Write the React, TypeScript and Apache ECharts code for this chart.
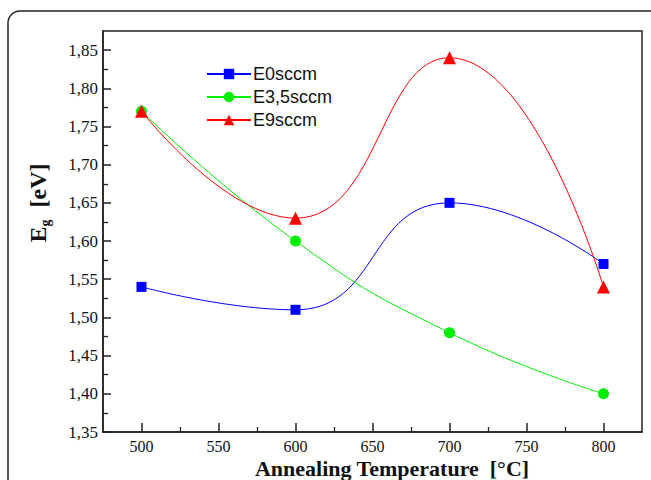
import React, { useEffect, useRef } from "react";
import * as echarts from "echarts";

const temps = [500, 600, 700, 800];
const e0 = [1.54, 1.51, 1.65, 1.57];
const e35 = [1.77, 1.6, 1.48, 1.4];
const e9 = [1.77, 1.63, 1.84, 1.54];
const seriesNames = ["E0sccm", "E3,5sccm", "E9sccm"];
const xMajor = [500, 550, 600, 650, 700, 750, 800];
const xMinor = [525, 575, 625, 675, 725, 775];
const yMajor = [1.35, 1.4, 1.45, 1.5, 1.55, 1.6, 1.65, 1.7, 1.75, 1.8, 1.85];
const yMinor = [1.375, 1.425, 1.475, 1.525, 1.575, 1.625, 1.675, 1.725, 1.775, 1.825];
const xTitle = "Annealing Temperature  [°C]";
const yTitleMain = "E";
const yTitleSub = "g";
const yTitleUnit = "[eV]";

const serif = "'Liberation Serif', 'Times New Roman', serif";
const sans = "'Liberation Sans', Arial, sans-serif";

export default function App() {
  const ref = useRef<HTMLDivElement>(null);
  useEffect(() => {
    const chart = echarts.init(ref.current!, null, { renderer: "svg" });
    const xMin = 475, xMax = 825, yMin = 1.35, yMax = 1.875;
    const pair = (vals: number[]) => temps.map((t, i) => [t, vals[i]]);
    const fmt = (v: number) => v.toFixed(2).replace(".", ",");
    chart.setOption({
      animation: false,
      backgroundColor: "#fff",
      graphic: [
        {
          type: "rect",
          shape: { x: 8, y: 11, width: 720, height: 540, r: 12 },
          style: { fill: "none", stroke: "#222", lineWidth: 1.5 },
          silent: true,
        },
        {
          type: "text",
          x: 392,
          y: 468,
          style: {
            text: xTitle,
            font: `bold 22px ${serif}`,
            fill: "#111",
            align: "center",
            verticalAlign: "middle",
          },
          silent: true,
        },
        {
          type: "text",
          x: 38,
          y: 203,
          rotation: Math.PI / 2,
          style: {
            text: `{a|${yTitleMain}}{b|${yTitleSub}}{a|  ${yTitleUnit}}`,
            align: "center",
            verticalAlign: "middle",
            rich: {
              a: { fontFamily: serif, fontSize: 24, fontWeight: "bold", fill: "#111" },
              b: { fontFamily: serif, fontSize: 14, fontWeight: "bold", fill: "#111", padding: [14, 0, 0, 0] },
            },
          },
          silent: true,
        },
      ],
      grid: { left: 103, top: 31, right: 9, bottom: 48, show: true, borderColor: "#222", borderWidth: 1.5 },
      legend: {
        orient: "vertical",
        left: 201,
        top: 60,
        itemWidth: 44,
        itemHeight: 13,
        itemGap: 5,
        data: seriesNames,
        textStyle: { fontFamily: sans, fontSize: 18, lineHeight: 18, color: "#111", padding: [0, 0, 0, -3] },
      },
      xAxis: [
        {
          type: "value",
          min: xMin,
          max: xMax,
          axisLine: { show: true, lineStyle: { color: "#222", width: 1.5 } },
          axisTick: { show: true, inside: true, length: 9, customValues: xMajor, lineStyle: { color: "#222", width: 1.5 } },
          axisLabel: { customValues: xMajor, margin: 6, fontFamily: serif, fontSize: 16, lineHeight: 16, color: "#111" },
          splitLine: { show: false },
        },
        {
          type: "value",
          min: xMin,
          max: xMax,
          position: "bottom",
          axisLine: { show: false },
          axisTick: { show: true, inside: true, length: 5, customValues: xMinor, lineStyle: { color: "#222", width: 1.3 } },
          axisLabel: { show: false },
          splitLine: { show: false },
        },
      ],
      yAxis: [
        {
          type: "value",
          min: yMin,
          max: yMax,
          axisLine: { show: true, lineStyle: { color: "#222", width: 1.5 } },
          axisTick: { show: true, inside: true, length: 8, customValues: yMajor, lineStyle: { color: "#222", width: 1.5 } },
          axisLabel: { customValues: yMajor, formatter: fmt, margin: 5, fontFamily: serif, fontSize: 17, color: "#111" },
          splitLine: { show: false },
        },
        {
          type: "value",
          min: yMin,
          max: yMax,
          position: "left",
          axisLine: { show: false },
          axisTick: { show: true, inside: true, length: 5, customValues: yMinor, lineStyle: { color: "#222", width: 1.3 } },
          axisLabel: { show: false },
          splitLine: { show: false },
        },
      ],
      series: [
        {
          name: seriesNames[0],
          type: "line",
          data: pair(e0),
          smooth: 0.5,
          symbol: "rect",
          symbolSize: 10,
          itemStyle: { color: "#0000ff" },
          lineStyle: { color: "#0000ff", width: 1 },
        },
        {
          name: seriesNames[1],
          type: "line",
          data: pair(e35),
          smooth: 0.5,
          symbol: "circle",
          symbolSize: 11,
          itemStyle: { color: "#00ee00" },
          lineStyle: { color: "#00ee00", width: 1 },
        },
        {
          name: seriesNames[2],
          type: "line",
          data: pair(e9),
          smooth: 0.5,
          symbol: "triangle",
          symbolSize: 13,
          itemStyle: { color: "#ff0000" },
          lineStyle: { color: "#ff0000", width: 1 },
        },
      ],
    });
    return () => chart.dispose();
  }, []);
  return <div ref={ref} style={{ width: 651, height: 480, position: "absolute", left: 0, top: 0 }} />;
}
